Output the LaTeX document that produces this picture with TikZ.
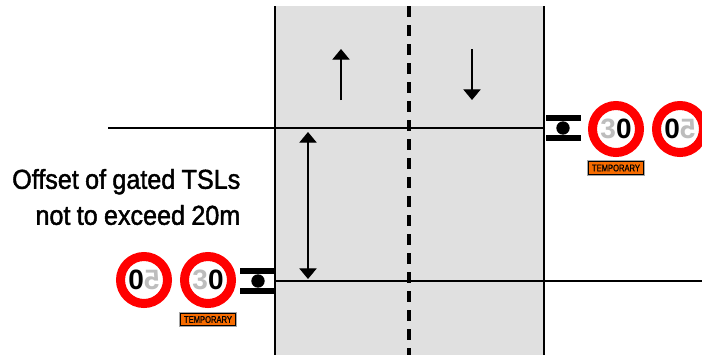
\documentclass[tikz,border=0pt]{standalone}
\usepackage{graphicx}
\usepackage{xcolor}
\usepackage{fontspec}
\setmainfont{Liberation Sans}
\newfontfamily\notefont[FakeStretch=0.92,FakeBold=1.6,WordSpace=0.9]{Liberation Sans}
\newfontfamily\platefont[FakeStretch=0.78,FakeBold=0.6]{Liberation Sans}
\usetikzlibrary{arrows.meta}
\definecolor{roadgrey}{HTML}{E0E0E0}
\definecolor{digitgrey}{HTML}{BDBDBD}
\definecolor{plateorange}{HTML}{F76C00}
\tikzstyle{roadline} = [line width=1.2pt, draw=black]
\tikzstyle{centreline} = [line width=2.5pt, draw=black, dash pattern=on 8.25pt off 6pt]
\tikzstyle{flow} = [line width=0.9pt, draw=black, -{Triangle[length=8pt,width=13pt]}]
\tikzstyle{offset} = [line width=0.9pt, draw=black, {Triangle[length=8pt,width=13pt]}-{Triangle[length=8pt,width=13pt]}]
\tikzstyle{tsl} = [circle, draw=red, fill=white, line width=6.75pt, minimum size=35.25pt, inner sep=0pt, text=black, font=\fontsize{21}{21}\selectfont\bfseries]
\tikzstyle{plate} = [rectangle, draw=black, fill=plateorange, line width=0.8pt, minimum width=41.5pt, minimum height=9.5pt, inner sep=0pt, font=\platefont\fontsize{7.3}{7.3}\selectfont, preaction={draw=black!35, line width=2.2pt}]
\tikzstyle{gatebar} = [line width=4.5pt, draw=black]
\tikzstyle{gatepost} = [circle, fill=black, minimum size=10pt, inner sep=0pt]
\tikzstyle{note} = [align=right, anchor=east, font=\notefont\fontsize{20.5}{27}\selectfont]

\begin{document}
\begin{tikzpicture}[x=0.75pt,y=-0.75pt]
    \useasboundingbox (0,0) rectangle (702,358);
    % road
    \coordinate (roadNW) at (275,6);
    \coordinate (roadSW) at (275,355);
    \coordinate (roadNE) at (544,6);
    \coordinate (roadSE) at (544,355);
    \coordinate (midN) at (409,6);
    \coordinate (midS) at (409,355);
    \fill[roadgrey] (roadNW) rectangle (roadSE);
    \draw[roadline] (roadNW) -- (roadSW);
    \draw[roadline] (roadNE) -- (roadSE);
    \draw[centreline] (midN) -- (midS);
    % limit lines
    \coordinate (topL) at (108,128);
    \coordinate (topR) at (544,128);
    \coordinate (botL) at (275,281);
    \coordinate (botR) at (702,281);
    \draw[roadline] (topL) -- (topR);
    \draw[roadline] (botL) -- (botR);
    % arrows
    \coordinate (upA) at (341,100);
    \coordinate (upB) at (341,49);
    \coordinate (downA) at (472,49);
    \coordinate (downB) at (472,100);
    \coordinate (offA) at (308,132);
    \coordinate (offB) at (308,279);
    \draw[flow] (upA) -- (upB);
    \draw[flow] (downA) -- (downB);
    \draw[offset] (offA) -- (offB);
    % gate west
    \coordinate (gateWa) at (240,271);
    \coordinate (gateWb) at (275,271);
    \coordinate (gateWc) at (240,290.5);
    \coordinate (gateWd) at (275,290.5);
    \draw[gatebar] (gateWa) -- (gateWb);
    \draw[gatebar] (gateWc) -- (gateWd);
    \node (postW) [gatepost] at (258,281) {};
    % gate east
    \coordinate (gateEa) at (546,118);
    \coordinate (gateEb) at (581,118);
    \coordinate (gateEc) at (546,138);
    \coordinate (gateEd) at (581,138);
    \draw[gatebar] (gateEa) -- (gateEb);
    \draw[gatebar] (gateEc) -- (gateEd);
    \node (postE) [gatepost] at (563,128) {};
    % signs
    \node (sign60W) [tsl] at (144,280) {0\textcolor{digitgrey}{\reflectbox{5}}};
    \node (sign30W) [tsl] at (208,280) {\textcolor{digitgrey}{3}0};
    \node (sign30E) [tsl] at (616,129) {\textcolor{digitgrey}{3}0};
    \node (sign60E) [tsl] at (680,129) {0\textcolor{digitgrey}{\reflectbox{5}}};
    \node (plateW) [plate] at (208,319.5) {TEMPORARY};
    \node (plateE) [plate] at (616,168) {TEMPORARY};
    % offset note
    \node (noteTSL) [note] at (245,197) {Offset of gated TSLs\\not to exceed 20m};
\end{tikzpicture}
\end{document}
